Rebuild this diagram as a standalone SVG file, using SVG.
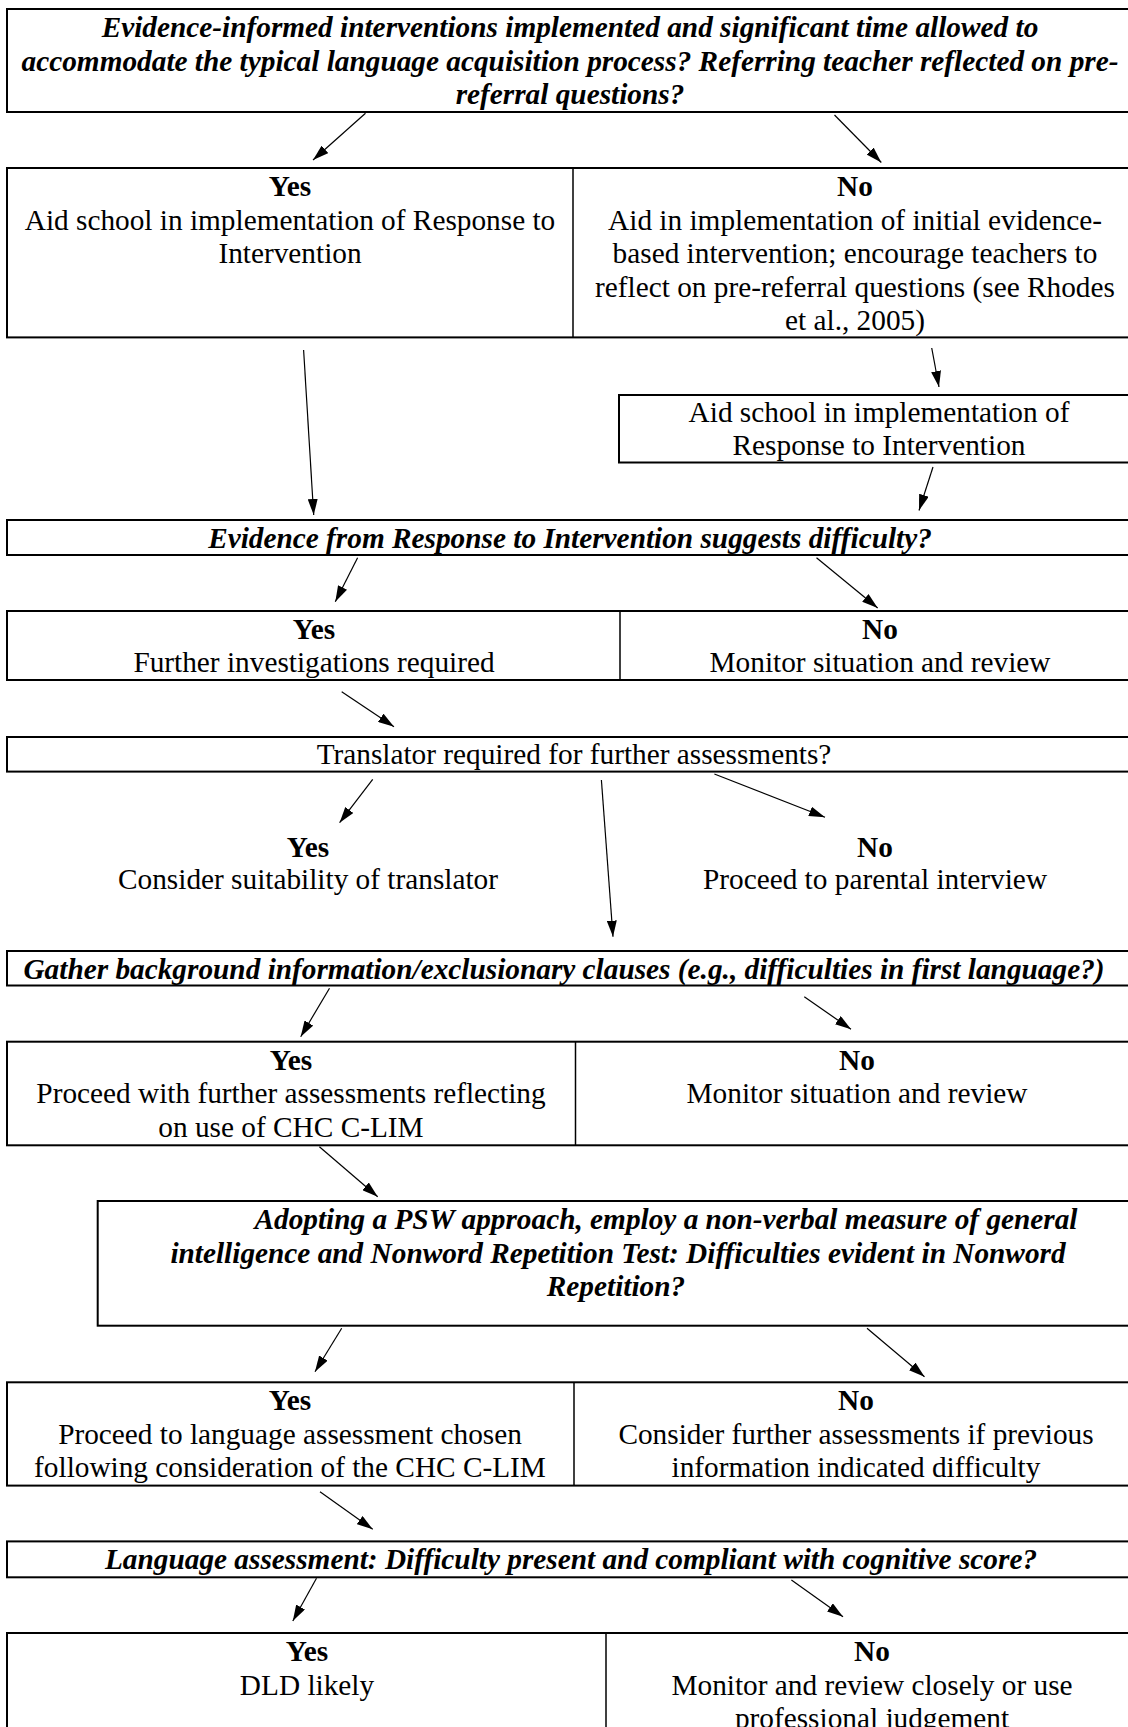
<svg xmlns="http://www.w3.org/2000/svg" width="1128" height="1727" viewBox="0 0 1128 1727">
<style>
.box{fill:#fff;stroke:#000;stroke-width:2}
.div{stroke:#000;stroke-width:1.5}
text{font-family:"Liberation Serif","Times New Roman",serif;font-size:29.3px;fill:#000;text-anchor:middle}
.b{font-weight:bold}
.bi{font-weight:bold;font-style:italic}
.con line{stroke:#000;stroke-width:1.2;marker-end:url(#ah)}
</style>
<defs>
<marker id="ah" viewBox="0 0 16 10" refX="16" refY="5" markerWidth="16" markerHeight="10" markerUnits="userSpaceOnUse" orient="auto">
<path d="M0,0 L16,5 L0,10 z" fill="#000"/>
</marker>
</defs>
<rect width="1128" height="1727" fill="#fff"/>

<g id="q1">
<rect class="box" x="7" y="9" width="1133" height="103"/>
<text class="bi" x="570" y="37">Evidence-informed interventions implemented and significant time allowed to</text>
<text class="bi" x="570" y="70.5">accommodate the typical language acquisition process? Referring teacher reflected on pre-</text>
<text class="bi" x="570" y="104">referral questions?</text>
</g>

<g id="yn1">
<rect class="box" x="7" y="168" width="1133" height="169.4"/>
<line class="div" x1="573" y1="168" x2="573" y2="337.4"/>
<text class="b" x="290" y="196">Yes</text>
<text x="290" y="229.5">Aid school in implementation of Response to</text>
<text x="290" y="263">Intervention</text>
<text class="b" x="855" y="196">No</text>
<text x="855" y="229.5">Aid in implementation of initial evidence-</text>
<text x="855" y="263">based intervention; encourage teachers to</text>
<text x="855" y="296.5">reflect on pre-referral questions (see Rhodes</text>
<text x="855" y="330">et al., 2005)</text>
</g>

<g id="aid">
<rect class="box" x="619" y="395" width="521" height="67.5"/>
<text x="879" y="422">Aid school in implementation of</text>
<text x="879" y="455">Response to Intervention</text>
</g>

<g id="q2">
<rect class="box" x="7" y="520" width="1133" height="35"/>
<text class="bi" x="570" y="547.5">Evidence from Response to Intervention suggests difficulty?</text>
</g>

<g id="yn2">
<rect class="box" x="7" y="611" width="1133" height="69"/>
<line class="div" x1="620" y1="611" x2="620" y2="680"/>
<text class="b" x="314" y="638.5">Yes</text>
<text x="314" y="672">Further investigations required</text>
<text class="b" x="880" y="638.5">No</text>
<text x="880" y="672">Monitor situation and review</text>
</g>

<g id="q3">
<rect class="box" x="7" y="737" width="1133" height="34.6"/>
<text x="574" y="764">Translator required for further assessments?</text>
</g>

<g id="yes3">
<text class="b" x="308" y="856.5">Yes</text>
<text x="308" y="889">Consider suitability of translator</text>
</g>
<g id="no3">
<text class="b" x="875" y="856.5">No</text>
<text x="875" y="889">Proceed to parental interview</text>
</g>

<g id="q4">
<rect class="box" x="7" y="951" width="1133" height="34.5"/>
<text class="bi" x="564" y="978.5">Gather background information/exclusionary clauses (e.g., difficulties in first language?)</text>
</g>

<g id="yn4">
<rect class="box" x="7" y="1041.7" width="1133" height="103.6"/>
<line class="div" x1="575.5" y1="1041.7" x2="575.5" y2="1145.3"/>
<text class="b" x="291" y="1069.5">Yes</text>
<text x="291" y="1103">Proceed with further assessments reflecting</text>
<text x="291" y="1136.5">on use of CHC C-LIM</text>
<text class="b" x="857" y="1069.5">No</text>
<text x="857" y="1103">Monitor situation and review</text>
</g>

<g id="q5">
<rect class="box" x="97.7" y="1201" width="1042.3" height="124.7"/>
<text class="bi" x="666" y="1229">Adopting a PSW approach, employ a non-verbal measure of general</text>
<text class="bi" x="618" y="1262.5">intelligence and Nonword Repetition Test: Difficulties evident in Nonword</text>
<text class="bi" x="616" y="1296">Repetition?</text>
</g>

<g id="yn5">
<rect class="box" x="7" y="1382.3" width="1133" height="103.3"/>
<line class="div" x1="574" y1="1382.3" x2="574" y2="1485.6"/>
<text class="b" x="290" y="1410">Yes</text>
<text x="290" y="1443.5">Proceed to language assessment chosen</text>
<text x="290" y="1477">following consideration of the CHC C-LIM</text>
<text class="b" x="856" y="1410">No</text>
<text x="856" y="1443.5">Consider further assessments if previous</text>
<text x="856" y="1477">information indicated difficulty</text>
</g>

<g id="q6">
<rect class="box" x="7" y="1541.4" width="1133" height="35.9"/>
<text class="bi" x="571" y="1569">Language assessment: Difficulty present and compliant with cognitive score?</text>
</g>

<g id="yn6">
<rect class="box" x="7" y="1633" width="1133" height="200"/>
<line class="div" x1="606" y1="1633" x2="606" y2="1833"/>
<text class="b" x="307" y="1661">Yes</text>
<text x="307" y="1694.5">DLD likely</text>
<text class="b" x="872" y="1661">No</text>
<text x="872" y="1694.5">Monitor and review closely or use</text>
<text x="872" y="1728">professional judgement</text>
</g>

<g id="connectors" class="con">
<line x1="365.5" y1="113.3" x2="313" y2="160"/>
<line x1="834.5" y1="115" x2="881.3" y2="162.5"/>
<line x1="303.6" y1="350" x2="313.7" y2="515"/>
<line x1="931.7" y1="348" x2="939" y2="387"/>
<line x1="933" y1="467" x2="919" y2="510.5"/>
<line x1="357.6" y1="557.7" x2="335.3" y2="601.7"/>
<line x1="816.5" y1="557.7" x2="877.7" y2="608"/>
<line x1="341.7" y1="691.7" x2="394" y2="726.7"/>
<line x1="372.7" y1="779.3" x2="339.6" y2="822.7"/>
<line x1="601.4" y1="780" x2="613" y2="936.7"/>
<line x1="714.4" y1="774" x2="825" y2="817.3"/>
<line x1="329.5" y1="988.3" x2="300.7" y2="1036.7"/>
<line x1="804.3" y1="996.7" x2="851" y2="1029.3"/>
<line x1="319.4" y1="1146.7" x2="377.7" y2="1196.7"/>
<line x1="341.7" y1="1328.3" x2="315" y2="1371.7"/>
<line x1="867" y1="1328.3" x2="924.5" y2="1376.7"/>
<line x1="320" y1="1491.7" x2="372.7" y2="1529.3"/>
<line x1="316.5" y1="1578.3" x2="292.8" y2="1621"/>
<line x1="791.4" y1="1580" x2="843" y2="1616.7"/>
</g>
</svg>
